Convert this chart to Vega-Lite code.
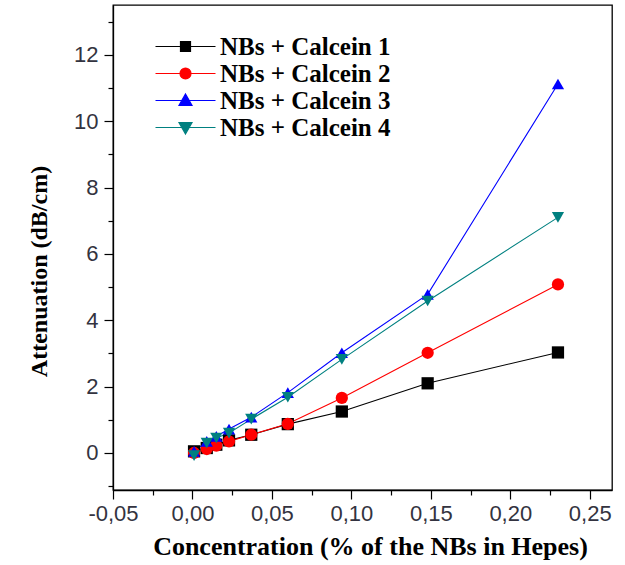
{
  "$schema": "https://vega.github.io/schema/vega-lite/v6.json",
  "width": 499,
  "height": 485,
  "autosize": {"type": "none"},
  "padding": {"left": 113, "top": 5, "right": 13, "bottom": 75},
  "background": "white",
  "config": {
    "locale": {"number": {"decimal": ",", "thousands": ".", "grouping": [3], "currency": ["", ""], "minus": "-"}},
    "view": {"stroke": "#000", "strokeWidth": 1.3},
    "axis": {
      "domainColor": "#000", "domainWidth": 1.3, "tickColor": "#000", "tickWidth": 1.2,
      "labelFont": "Liberation Sans", "labelFontSize": 22, "labelColor": "#333340",
      "titleFont": "Liberation Serif", "titleFontWeight": "bold", "titleColor": "#000",
      "grid": false
    },
    "legend": {
      "labelFont": "Liberation Serif", "labelFontWeight": "bold", "labelFontSize": 25, "labelColor": "#000", "labelLimit": 0,
      "symbolStrokeWidth": 1.2, "symbolOpacity": 1
    }
  },
  "data": {"values": [
    {"c": 0.001, "a": 0.05, "s": "NBs + Calcein 1"},
    {"c": 0.009, "a": 0.15, "s": "NBs + Calcein 1"},
    {"c": 0.015, "a": 0.25, "s": "NBs + Calcein 1"},
    {"c": 0.023, "a": 0.38, "s": "NBs + Calcein 1"},
    {"c": 0.037, "a": 0.55, "s": "NBs + Calcein 1"},
    {"c": 0.06, "a": 0.87, "s": "NBs + Calcein 1"},
    {"c": 0.094, "a": 1.25, "s": "NBs + Calcein 1"},
    {"c": 0.148, "a": 2.1, "s": "NBs + Calcein 1"},
    {"c": 0.23, "a": 3.03, "s": "NBs + Calcein 1"},
    {"c": 0.001, "a": 0.0, "s": "NBs + Calcein 2"},
    {"c": 0.009, "a": 0.12, "s": "NBs + Calcein 2"},
    {"c": 0.015, "a": 0.22, "s": "NBs + Calcein 2"},
    {"c": 0.023, "a": 0.35, "s": "NBs + Calcein 2"},
    {"c": 0.037, "a": 0.55, "s": "NBs + Calcein 2"},
    {"c": 0.06, "a": 0.88, "s": "NBs + Calcein 2"},
    {"c": 0.094, "a": 1.66, "s": "NBs + Calcein 2"},
    {"c": 0.148, "a": 3.02, "s": "NBs + Calcein 2"},
    {"c": 0.23, "a": 5.08, "s": "NBs + Calcein 2"},
    {"c": 0.001, "a": 0.05, "s": "NBs + Calcein 3"},
    {"c": 0.009, "a": 0.35, "s": "NBs + Calcein 3"},
    {"c": 0.015, "a": 0.5, "s": "NBs + Calcein 3"},
    {"c": 0.023, "a": 0.72, "s": "NBs + Calcein 3"},
    {"c": 0.037, "a": 1.08, "s": "NBs + Calcein 3"},
    {"c": 0.06, "a": 1.82, "s": "NBs + Calcein 3"},
    {"c": 0.094, "a": 3.02, "s": "NBs + Calcein 3"},
    {"c": 0.148, "a": 4.78, "s": "NBs + Calcein 3"},
    {"c": 0.23, "a": 11.12, "s": "NBs + Calcein 3"},
    {"c": 0.001, "a": -0.08, "s": "NBs + Calcein 4"},
    {"c": 0.009, "a": 0.3, "s": "NBs + Calcein 4"},
    {"c": 0.015, "a": 0.45, "s": "NBs + Calcein 4"},
    {"c": 0.023, "a": 0.6, "s": "NBs + Calcein 4"},
    {"c": 0.037, "a": 1.02, "s": "NBs + Calcein 4"},
    {"c": 0.06, "a": 1.68, "s": "NBs + Calcein 4"},
    {"c": 0.094, "a": 2.82, "s": "NBs + Calcein 4"},
    {"c": 0.148, "a": 4.58, "s": "NBs + Calcein 4"},
    {"c": 0.23, "a": 7.1, "s": "NBs + Calcein 4"}
  ]},
  "encoding": {
    "x": {
      "field": "c", "type": "quantitative",
      "scale": {"domain": [-0.05, 0.264], "nice": false, "zero": false},
      "axis": {
        "title": "Concentration (% of the NBs in Hepes)", "titleFontSize": 26, "titlePadding": 9, "titleX": 257,
        "values": [-0.05, -0.025, 0, 0.025, 0.05, 0.075, 0.1, 0.125, 0.15, 0.175, 0.2, 0.225, 0.25],
        "format": ".2f",
        "labelExpr": "round(datum.value*1000) % 50 === 0 ? datum.label : ''",
        "tickSize": {"condition": {"test": "round(datum.value*1000) % 50 !== 0", "value": 5}, "value": 9},
        "labelPadding": 4, "labelFlush": false
      }
    },
    "y": {
      "field": "a", "type": "quantitative",
      "scale": {"domain": [-1.115, 13.5], "nice": false, "zero": false},
      "axis": {
        "title": "Attenuation (dB/cm)", "titleFontSize": 24, "titlePadding": 22, "titleY": 266,
        "values": [-1, 0, 1, 2, 3, 4, 5, 6, 7, 8, 9, 10, 11, 12, 13],
        "format": "d",
        "labelExpr": "datum.value % 2 === 0 ? datum.label : ''",
        "tickSize": {"condition": {"test": "datum.value % 2 !== 0", "value": 5}, "value": 9},
        "labelPadding": 6, "labelFlush": false
      }
    }
  },
  "layer": [
    {
      "mark": {"type": "line", "strokeWidth": 1.1},
      "encoding": {
        "color": {"field": "s", "type": "nominal",
          "scale": {"domain": ["NBs + Calcein 1", "NBs + Calcein 2", "NBs + Calcein 3", "NBs + Calcein 4"],
                    "range": ["#000000", "#ff0000", "#0000ff", "#008080"]},
          "legend": null}
      }
    },
    {
      "mark": {"type": "point", "filled": true, "size": 150, "opacity": 1},
      "encoding": {
        "color": {"field": "s", "type": "nominal",
          "scale": {"domain": ["NBs + Calcein 1", "NBs + Calcein 2", "NBs + Calcein 3", "NBs + Calcein 4"],
                    "range": ["#000000", "#ff0000", "#0000ff", "#008080"]},
          "legend": null},
        "shape": {"field": "s", "type": "nominal",
          "scale": {"domain": ["NBs + Calcein 1", "NBs + Calcein 2", "NBs + Calcein 3", "NBs + Calcein 4"],
                    "range": ["square", "circle", "triangle-up", "triangle-down"]},
          "legend": null}
      }
    },
    {
      "mark": {"type": "point", "size": 100, "opacity": 0},
      "encoding": {
        "fill": {"field": "s", "type": "nominal",
          "scale": {"domain": ["NBs + Calcein 1", "NBs + Calcein 2", "NBs + Calcein 3", "NBs + Calcein 4"],
                    "range": ["#000000", "#ff0000", "#0000ff", "#008080"]},
          "legend": {"title": null, "orient": "none", "legendX": 60, "legendY": 29, "padding": 0, "rowPadding": 1, "labelOffset": 22, "symbolSize": 100}},
        "stroke": {"field": "s", "type": "nominal",
          "scale": {"domain": ["NBs + Calcein 1", "NBs + Calcein 2", "NBs + Calcein 3", "NBs + Calcein 4"],
                    "range": ["#000000", "#ff0000", "#0000ff", "#008080"]},
          "legend": {"title": null, "orient": "none", "legendX": 60, "legendY": 29, "padding": 0, "rowPadding": 1, "labelOffset": 22, "symbolSize": 100}},
        "shape": {"field": "s", "type": "nominal",
          "scale": {"domain": ["NBs + Calcein 1", "NBs + Calcein 2", "NBs + Calcein 3", "NBs + Calcein 4"],
                    "range": [
                      "M-6,0H6M-1,-1H1V1H-1Z",
                      "M-6,0H6M-1.1,0A1.1,1.1 0 1,0 1.1,0A1.1,1.1 0 1,0 -1.1,0Z",
                      "M-6,0H6M0,-1.3L1.3,1L-1.3,1Z",
                      "M-6,0H6M0,1.3L1.3,-1L-1.3,-1Z"
                    ]},
          "legend": {"title": null, "orient": "none", "legendX": 60, "legendY": 29, "padding": 0, "rowPadding": 1, "labelOffset": 22, "symbolSize": 100}}
      }
    }
  ],
  "resolve": {"scale": {"shape": "independent", "fill": "independent", "stroke": "independent"}}
}
